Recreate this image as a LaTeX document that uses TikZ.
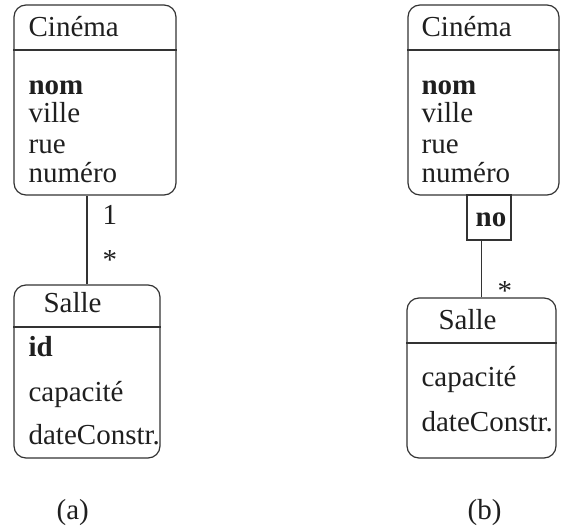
\documentclass[tikz,border=0pt]{standalone}
\usepackage{fontspec}
\setmainfont{Liberation Serif}
\usetikzlibrary{fit}
\begin{document}
\begin{tikzpicture}[x=0.75pt,y=-0.75pt,
  line width=0.9pt,
  classbox/.style={draw=black!80, rounded corners=9pt, inner sep=0pt},
  keybox/.style={draw=black!80, inner sep=0pt},
  txt/.style={anchor=base west, inner sep=0pt, text=black!88, font=\fontsize{21.75}{21.75}\selectfont},
  ctxt/.style={anchor=base, inner sep=0pt, text=black!88, font=\fontsize{21.75}{21.75}\selectfont},
  link/.style={draw=black!80}]
\useasboundingbox (0,0) rectangle (561,527);

% ---------- (a) ----------
\node[classbox, fit={(14,5)(176,195)}] (cinA) {};
\draw[black!80] (cinA.west |- 0,50) -- (cinA.east |- 0,50);
\node[txt] (cinAt) at (28,37) {Cinéma};
\node[txt] (cinA1) at (28,95) {\bfseries nom};
\node[txt] (cinA2) at (28,123) {ville};
\node[txt] (cinA3) at (28,154) {rue};
\node[txt] (cinA4) at (28,183) {numéro};

\node[classbox, fit={(14,285)(160,458)}] (salA) {};
\draw[black!80] (salA.west |- 0,327) -- (salA.east |- 0,327);
\node[txt] (salAt) at (43,313) {Salle};
\node[txt] (salA1) at (28,357) {\bfseries id};
\node[txt] (salA2) at (28,402) {capacité};
\node[txt] (salA3) at (28,445) {dateConstr.};

\draw[link] (salA.north) -- (salA.north |- cinA.south);
\node[txt] (mA1) at (102,225) {1};
\node[txt] (mA2) at (102,270) {*};

\node[txt] (capA) at (56,519) {(a)};

% ---------- (b) ----------
\node[classbox, fit={(408,5)(559,195)}] (cinB) {};
\draw[black!80] (cinB.west |- 0,50) -- (cinB.east |- 0,50);
\node[txt] (cinBt) at (421,37) {Cinéma};
\node[txt] (cinB1) at (421,95) {\bfseries nom};
\node[txt] (cinB2) at (421,123) {ville};
\node[txt] (cinB3) at (421,154) {rue};
\node[txt] (cinB4) at (421,183) {numéro};

\node[keybox, fit={(467,195)(511,240)}] (qual) {};
\node[ctxt] (qualt) at (491,227) {\bfseries no};

\node[classbox, fit={(407,298)(556,458)}] (salB) {};
\draw[black!80] (salB.west |- 0,343) -- (salB.east |- 0,343);
\node[txt] (salBt) at (438,330) {Salle};
\node[txt] (salB1) at (421,387) {capacité};
\node[txt] (salB2) at (421,432) {dateConstr.};

\draw[link] (salB.north) -- (salB.north |- qual.south);
\node[txt] (mB1) at (497,301) {*};

\node[txt] (capB) at (467,519) {(b)};
\end{tikzpicture}
\end{document}
